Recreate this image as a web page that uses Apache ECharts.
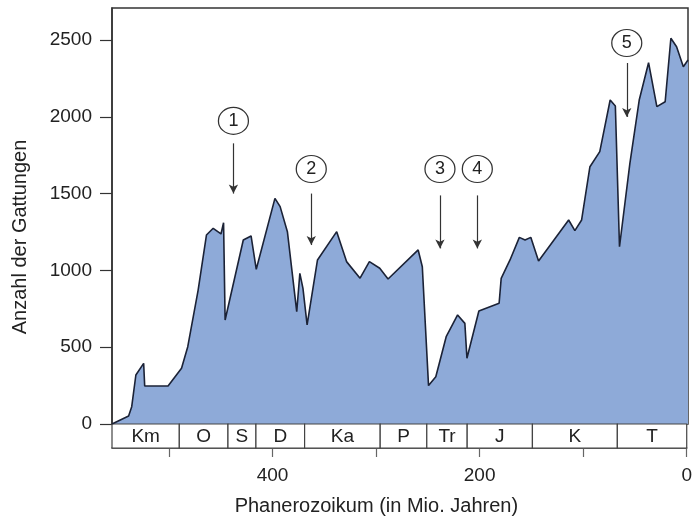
<!DOCTYPE html>
<html>
<head>
<meta charset="utf-8">
<script src="https://cdn.jsdelivr.net/npm/echarts@6/dist/echarts.min.js"></script>
<style>
  html, body { margin: 0; padding: 0; background: #fff; }
  #chart { width: 695px; height: 518px; }
</style>
</head>
<body>
<div id="chart"></div>
<script>
// Zeit (Mio. Jahre) und Anzahl der Gattungen
const ages = [555, 549, 539, 536, 532, 524.5, 523.5, 501, 488, 482, 472, 464, 457.5, 450, 447.5, 446,
  428.5, 421, 416, 398, 393, 386, 377, 374, 371, 367, 357, 338.5, 329, 316, 307, 297, 289, 260, 256,
  250, 243, 233, 222, 215, 213, 201.5, 182, 180, 171.5, 162.5, 157, 151.5, 144, 115, 109, 102.5,
  94.5, 85, 75, 70, 66, 56, 47, 38, 30, 22, 16.5, 11, 4.5, 0];
const genera = [0, 20, 52, 113, 319, 395, 247, 247, 363, 503, 872, 1230, 1274, 1237, 1310, 677,
  1198, 1224, 1007, 1469, 1415, 1252, 731, 981, 883, 645, 1068, 1252, 1057, 949, 1057, 1014, 944, 1133, 1024,
  250, 308, 568, 710, 655, 428, 736, 786, 948, 1068, 1215, 1198, 1215, 1061, 1328, 1259, 1328,
  1675, 1773, 2109, 2070, 1154, 1697, 2109, 2352, 2066, 2098, 2511, 2456, 2326, 2370];

// Erdzeitalter
const periodStart = [555, 490, 443, 416, 369, 296, 251, 212, 149, 67];
const periodEnd = [490, 443, 416, 369, 296, 251, 212, 149, 67, 0];
const periodNames = ["Km", "O", "S", "D", "Ka", "P", "Tr", "J", "K", "T"];

// Massenaussterben (Markierungen)
const eventNames = ["1", "2", "3", "4", "5"];
const eventAges = [438, 363, 239, 203, 59];
const circleLevel = [1973, 1660, 1660, 1660, 2480];
const arrowTop = [1827, 1500, 1488, 1488, 2350];
const arrowBottom = [1500, 1165, 1143, 1143, 1999];

const yTicks = [0, 500, 1000, 1500, 2000, 2500];
const xLabels = [400, 200, 0];

const font = "Liberation Sans, Arial, sans-serif";
const chart = echarts.init(document.getElementById("chart"));

const option = {
  animation: false,
  grid: [
    { left: 112, right: 7, top: 8, height: 416, show: true, borderColor: "#333", borderWidth: 1.5, backgroundColor: "transparent" },
    { left: 112, right: 7, top: 424, height: 24 }
  ],
  xAxis: [
    { gridIndex: 0, type: "value", min: 0, max: 555, inverse: true, show: false },
    {
      gridIndex: 1, type: "value", min: 0, max: 555, inverse: true, interval: 100,
      axisLine: { show: true, onZero: false, lineStyle: { color: "#333", width: 1.5 } },
      axisTick: { show: true, length: 9, lineStyle: { color: "#666", width: 1.2 } },
      splitLine: { show: false },
      axisLabel: {
        margin: 18, color: "#222", fontSize: 19, fontFamily: font,
        showMinLabel: true, showMaxLabel: false,
        formatter: v => (xLabels.indexOf(v) >= 0 ? String(v) : "")
      },
      name: "Phanerozoikum (in Mio. Jahren)",
      nameLocation: "middle",
      nameGap: 48,
      nameTextStyle: { color: "#222", fontSize: 20, fontFamily: font, padding: [0, 46, 0, 0] }
    }
  ],
  yAxis: [
    {
      gridIndex: 0, type: "value", min: 0, max: 2708, interval: 500,
      axisLine: { show: true, onZero: false, lineStyle: { color: "#333", width: 1.5 } },
      axisTick: { show: true, length: 12, lineStyle: { color: "#333", width: 1.2 } },
      splitLine: { show: false },
      axisLabel: {
        margin: 20, color: "#222", fontSize: 19, fontFamily: font, showMaxLabel: false,
        formatter: v => (yTicks.indexOf(v) >= 0 ? String(v) : "")
      },
      name: "Anzahl der Gattungen",
      nameLocation: "middle",
      nameGap: 82,
      nameTextStyle: { color: "#222", fontSize: 20, fontFamily: font, padding: [0, 42, 0, 0] }
    },
    { gridIndex: 1, type: "value", min: 0, max: 1, show: false }
  ],
  series: [
    {
      type: "line",
      xAxisIndex: 0,
      yAxisIndex: 0,
      data: ages.map((a, i) => [a, genera[i]]),
      symbol: "none",
      lineStyle: { color: "#1b2236", width: 1.6 },
      areaStyle: { color: "#8eaad8", opacity: 1 },
      z: 2,
      markPoint: {
        symbol: "circle",
        symbolSize: [30, 27],
        itemStyle: { color: "#fff", borderColor: "#333", borderWidth: 1.2 },
        label: { show: true, formatter: "{b}", color: "#222", fontSize: 18, fontFamily: font },
        data: eventNames.map((n, i) => ({ name: n, coord: [eventAges[i], circleLevel[i]] }))
      },
      markLine: {
        silent: true,
        symbol: ["none", "arrow"],
        symbolSize: [7, 9],
        label: { show: false },
        lineStyle: { color: "#333", width: 1.2, type: "solid" },
        data: eventNames.map((n, i) => [
          { coord: [eventAges[i], arrowTop[i]] },
          { coord: [eventAges[i], arrowBottom[i]] }
        ])
      }
    },
    {
      type: "custom",
      xAxisIndex: 1,
      yAxisIndex: 1,
      data: periodNames.map((n, i) => [periodStart[i], periodEnd[i], n]),
      renderItem: (params, api) => {
        const p0 = api.coord([api.value(0), 1]);
        const p1 = api.coord([api.value(1), 0]);
        return {
          type: "group",
          children: [
            {
              type: "rect",
              shape: { x: p0[0], y: p0[1], width: p1[0] - p0[0], height: p1[1] - p0[1] },
              style: { fill: "#fff", stroke: "#444", lineWidth: 1.2 }
            },
            {
              type: "text",
              x: (p0[0] + p1[0]) / 2,
              y: (p0[1] + p1[1]) / 2 + 1,
              style: {
                text: periodNames[params.dataIndex],
                fill: "#222", fontSize: 19, fontFamily: font,
                align: "center", verticalAlign: "middle"
              }
            }
          ]
        };
      }
    }
  ]
};

chart.setOption(option);
</script>
</body>
</html>
